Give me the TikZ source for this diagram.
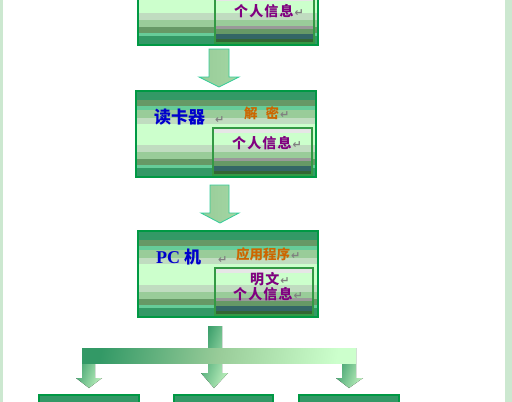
\documentclass[tikz,border=0pt]{standalone}
\usepackage{fontspec}
\usetikzlibrary{calc}
\newfontfamily\cjk{Noto Sans CJK SC}
\newfontfamily\cjks{Noto Sans CJK SC}[LetterSpace=8]
\newfontfamily\latb{Liberation Serif}
\newfontfamily\sym{DejaVu Sans}
\definecolor{gA}{HTML}{339966}
\definecolor{gB}{HTML}{669966}
\definecolor{gC}{HTML}{66CC99}
\definecolor{gD}{HTML}{99CC99}
\definecolor{gE}{HTML}{C0DCC0}
\definecolor{gF}{HTML}{CCFFCC}
\definecolor{gG}{HTML}{E6E6E6}
\definecolor{gH}{HTML}{999999}
\definecolor{gI}{HTML}{336666}
\definecolor{gJ}{HTML}{336633}
\definecolor{bord}{HTML}{009944}
\definecolor{ibord}{HTML}{339944}
\definecolor{aline}{HTML}{33CC99}
\definecolor{side}{HTML}{CCE8D0}
\definecolor{txtblue}{HTML}{0000CC}
\definecolor{txtorange}{HTML}{CC6600}
\definecolor{txtpurple}{HTML}{800080}
\definecolor{markgray}{HTML}{808080}
\newcommand\outerlist{0/0.11/gA, 0.11/0.18/gB, 0.18/0.22/gC, 0.22/0.31/gD, 0.31/0.38/gE, 0.38/0.63/gF, 0.63/0.71/gE, 0.71/0.79/gD, 0.79/0.86/gB, 0.86/0.9/gC, 0.9/1/gA}
\newcommand\innerlist{0/0.1/gG, 0.1/0.36/gF, 0.36/0.5/gE, 0.5/0.64/gD, 0.64/0.7/gH, 0.7/0.8/gB, 0.8/0.92/gI, 0.92/1/gJ}
\newcommand\retmark{\hspace{1pt}{\sym\color{markgray}\fontsize{11}{11}\selectfont ↵}}
\tikzset{
  stripes/.style={path picture={
    \foreach \p/\q/\col in #1 {
      \fill[\col] ($(path picture bounding box.north west)!\p!(path picture bounding box.south west)$)
        rectangle ($(path picture bounding box.north east)!\q!(path picture bounding box.south east)$);
    }}},
  outerbox/.style={draw=bord, line width=1.5pt, stripes=\outerlist, inner sep=0pt, outer sep=0pt,
    minimum width=180pt, minimum height=86pt},
  innerbox/.style={draw=ibord, line width=1.2pt, stripes=\innerlist, inner sep=0pt, outer sep=0pt,
    minimum width=99pt, minimum height=47pt},
  smallbox/.style={outerbox, minimum width=100pt},
  blockarrow/.style={draw=aline, line width=0.8pt, left color=gD, middle color=gF, right color=gD!80!gF},
  greenarrow/.style={left color=gA, right color=gF!70!gD, shading angle=70},
  bluetxt/.style={text=txtblue, font=\cjk\bfseries\fontsize{17}{17}\selectfont, inner sep=0pt, anchor=west},
  orangetxt/.style={text=txtorange, font=\cjk\bfseries\fontsize{13.5}{13.5}\selectfont, inner sep=0pt, anchor=west},
  purpletxt/.style={text=txtpurple, font=\cjks\bfseries\fontsize{14}{14}\selectfont, inner sep=0pt, anchor=west},
}
\begin{document}
\begin{tikzpicture}[x=1pt,y=-1pt]
\clip (0,0) rectangle (512,402);
\fill[white] (0,0) rectangle (512,402);
\fill[side] (0,0) rectangle (3,402);
\fill[side] (505,0) rectangle (512,402);

% box 1 (cut at top)
\node[outerbox] (b1) at (228,2) {};
\node[innerbox, minimum width=99pt] (i1) at (264.5,19.5) {};
\node[purpletxt] (t1) at (234,11) {个人信息\retmark};

% arrow 1
\coordinate (a1) at (219,49);
\draw[blockarrow, shift={(a1)}] (-10,0) -- (10,0) -- (10,28) -- (20,28) -- (0,38) -- (-20,28) -- (-10,28) -- cycle;

% box 2
\node[outerbox] (b2) at (226,134) {};
\node[innerbox] (i2) at (262.5,151.5) {};
\node[bluetxt] (t2a) at (154,117) {读卡器\hspace{9pt}\retmark};
\node[orangetxt] (t2b) at (244,113) {解\hspace{8pt}密\retmark};
\node[purpletxt] (t2c) at (232,143) {个人信息\retmark};

% arrow 2
\coordinate (a2) at (220,185);
\draw[blockarrow, shift={(a2)}] (-10,0) -- (9,0) -- (9,28) -- (19,28) -- (0,38) -- (-19,28) -- (-10,28) -- cycle;

% box 3
\node[outerbox] (b3) at (228,274) {};
\node[innerbox, minimum width=98pt] (i3) at (264,291.5) {};
\node[bluetxt] (t3a) at (156,257) {{\latb\bfseries\fontsize{18}{18}\selectfont PC} 机\hspace{16pt}\retmark};
\node[orangetxt] (t3b) at (236,254) {应用程序\retmark};
\node[purpletxt] (t3c) at (250,279) {明文\retmark};
\node[purpletxt] (t3d) at (233,294) {个人信息\retmark};

% distribution arrows
\coordinate (m) at (215,326);
\fill[greenarrow, shift={(m)}] (-7,0) -- (7,0) -- (7,47) -- (13,47) -- (-1,62) -- (-14,47) -- (-7,47) -- cycle;
\coordinate (l) at (89,348);
\fill[greenarrow, shift={(l)}] (-7,0) -- (6,0) -- (6,30) -- (13,30) -- (0,40) -- (-13,30) -- (-7,30) -- cycle;
\coordinate (r) at (349,348);
\fill[greenarrow, shift={(r)}] (-7,0) -- (7,0) -- (7,30) -- (14,30) -- (0,40) -- (-13,30) -- (-7,30) -- cycle;
\fill[left color=gA, right color=gF, middle color=gD, shading angle=80] (82,348) rectangle (356,363);

% bottom boxes (cut at bottom)
\node[smallbox] (b4) at (89,438) {};
\node[smallbox, minimum width=99pt] (b5) at (223.5,438) {};
\node[smallbox] (b6) at (349,438) {};
\end{tikzpicture}
\end{document}
